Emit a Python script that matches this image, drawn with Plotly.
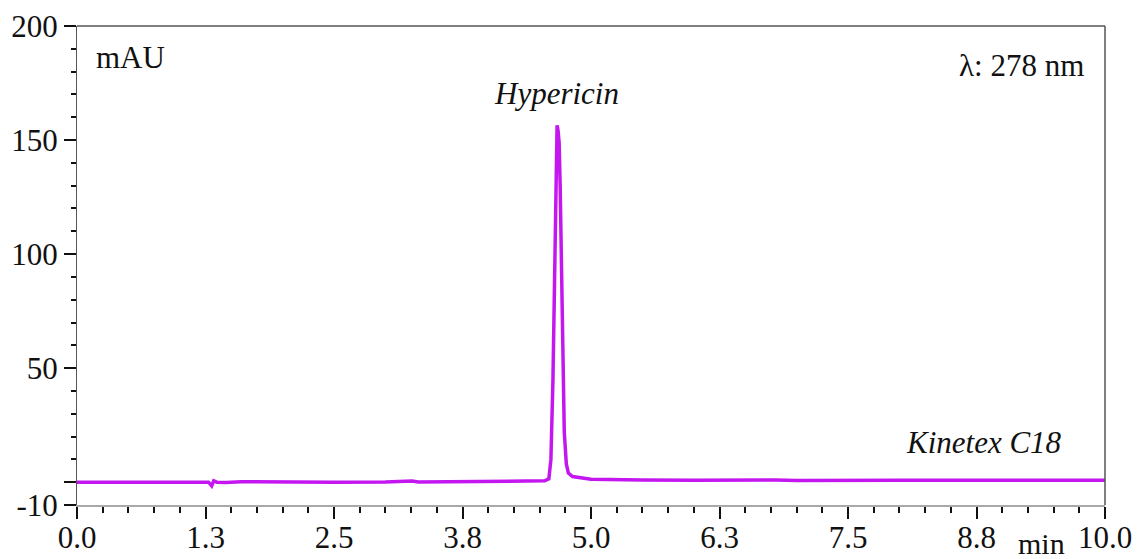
import plotly.graph_objects as go

# Chromatogram (time in min, absorbance in mAU)
time_min = [0.0, 0.5, 1.0, 1.28, 1.31, 1.33, 1.36, 1.45, 1.6, 2.0, 2.5, 3.0, 3.22, 3.26, 3.32,
            3.5, 4.0, 4.4, 4.55, 4.59, 4.61, 4.63, 4.65, 4.67, 4.68, 4.69, 4.70, 4.72, 4.74,
            4.76, 4.78, 4.82, 4.9, 5.0, 5.5, 6.0, 6.8, 6.9, 7.0, 8.0, 9.0, 10.0]
absorbance = [0.0, 0.0, 0.0, 0.0, -1.6, 0.6, 0.0, -0.1, 0.2, 0.0, 0.0, 0.1, 0.7, 0.5, 0.1,
              0.2, 0.4, 0.5, 0.6, 1.5, 10.0, 45.0, 110.0, 156.5, 154.0, 149.0, 130.0, 70.0, 22.0,
              8.0, 4.0, 2.5, 1.8, 1.3, 1.0, 0.8, 1.0, 0.9, 0.7, 0.8, 0.9, 0.9]

x_tickvals = [0.0, 1.25, 2.5, 3.75, 5.0, 6.25, 7.5, 8.75, 10.0]
x_ticktext = ["0.0", "1.3", "2.5", "3.8", "5.0", "6.3", "7.5", "8.8", "10.0"]
y_tickvals = [-10, 0, 50, 100, 150, 200]
y_ticktext = ["-10", "", "50", "100", "150", "200"]

FONT = "Liberation Serif"
LINE_COLOR = "#C417F0"
TXT = "#111111"

fig = go.Figure()
fig.add_trace(go.Scatter(x=time_min, y=absorbance, mode="lines",
                         line=dict(color=LINE_COLOR, width=3.5), showlegend=False,
                         hoverinfo="skip"))

fig.update_layout(
    width=1141, height=559,
    margin=dict(l=77, r=36, t=26, b=54),
    plot_bgcolor="white", paper_bgcolor="white",
    font=dict(family=FONT, size=31, color=TXT),
)

fig.update_xaxes(
    range=[0, 10], showgrid=False, zeroline=False, automargin=False,
    tickmode="array", tickvals=x_tickvals, ticktext=x_ticktext,
    ticks="outside", ticklen=12, tickwidth=2, tickcolor=TXT,
    ticklabelstandoff=-8,
    showline=True, linecolor="#AAAAAA", linewidth=2,
    tickfont=dict(family=FONT, size=31, color=TXT),
    minor=dict(dtick=0.25, tick0=0, ticks="outside", ticklen=6, tickwidth=1.5, tickcolor=TXT),
)
fig.update_yaxes(
    range=[-10, 200], showgrid=False, zeroline=False, automargin=False,
    tickmode="array", tickvals=y_tickvals, ticktext=y_ticktext,
    ticks="outside", ticklen=12, tickwidth=1.5, tickcolor=TXT,
    showline=True, linecolor="#555555", linewidth=1,
    tickfont=dict(family=FONT, size=31, color=TXT),
    minor=dict(dtick=10, tick0=0, ticks="outside", ticklen=5, tickwidth=1.5, tickcolor=TXT),
)

# top and right frame lines
fig.add_shape(type="line", xref="paper", yref="paper", x0=0, x1=1, y0=1, y1=1,
              line=dict(color="#555555", width=1.5))
fig.add_shape(type="line", xref="paper", yref="paper", x0=1, x1=1, y0=0, y1=1,
              line=dict(color="#555555", width=1.5))

fig.add_annotation(x=0.516, y=186.4, text="mAU", showarrow=False,
                   font=dict(family=FONT, size=31, color=TXT))
fig.add_annotation(x=9.19, y=182.5, text="λ: 278 nm", showarrow=False,
                   font=dict(family=FONT, size=31, color=TXT))
fig.add_annotation(x=4.66, y=170.6, text="<i>Hypericin</i>", showarrow=False,
                   font=dict(family=FONT, size=31, color=TXT))
fig.add_annotation(x=8.82, y=17.6, text="<i>Kinetex C18</i>", showarrow=False,
                   font=dict(family=FONT, size=31, color=TXT))
fig.add_annotation(xref="paper", yref="paper", x=0.938, y=0, xanchor="center",
                   yanchor="top", yshift=-20, text="min",
                   showarrow=False, font=dict(family=FONT, size=30, color=TXT))

fig.write_html("out.html")
